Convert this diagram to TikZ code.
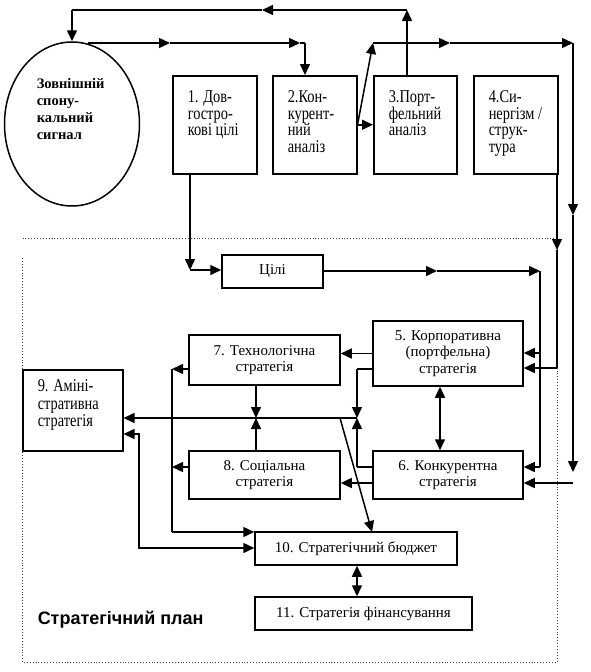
\documentclass[tikz,border=0pt]{standalone}
\usepackage{fontspec}
\setmainfont{Liberation Serif}
\newfontfamily\narrowfont{Liberation Serif}[FakeStretch=0.8]
\newfontfamily\sansfont{Liberation Sans}
\usetikzlibrary{arrows.meta,shapes.geometric}
\begin{document}
\begin{tikzpicture}[x=1pt,y=-1pt,line width=1.5pt,
  tip/.style={-{Triangle[length=11pt,width=10pt]}},
  dtip/.style={{Triangle[length=11pt,width=10pt]}-{Triangle[length=11pt,width=10pt]}},
  box/.style={draw,line width=1.5pt,inner sep=0pt,font=\fontsize{15}{16.5}\selectfont,align=center},
  txt/.style={inner sep=0pt,align=left,font=\narrowfont\fontsize{18}{16.5}\selectfont},
  frame/.style={dotted,line width=0.9pt,black!75}]
\useasboundingbox (0,0) rectangle (590,672);
% dotted frame
\draw[frame] (22,258) -- (22,662) -- (557,662) -- (557,238) -- (22,238);
% signal ellipse
\node[draw,ellipse,line width=1.5pt,minimum width=135,minimum height=164,inner sep=0pt] (sig) at (72,124) {};
\node[inner sep=0pt,align=left,font=\fontsize{14.5}{17}\selectfont\bfseries,anchor=north west] (sigt) at (36,78) {Зовнішній\\спону-\\кальний\\сигнал};
% top boxes
\node[box,minimum width=84,minimum height=98,anchor=north west] (b1) at (172,75) {};
\node[txt,anchor=north west] (t1) at (187,90) {1. Дов-\\гостро-\\кові цілі};
\node[box,minimum width=84,minimum height=98,anchor=north west] (b2) at (272,75) {};
\node[txt,anchor=north west] (t2) at (287,90) {2.Кон-\\курент-\\ний\\аналіз};
\node[box,minimum width=83,minimum height=98,anchor=north west] (b3) at (373,75) {};
\node[txt,anchor=north west] (t3) at (388,90) {3.Порт-\\фельний\\аналіз};
\node[box,minimum width=84,minimum height=98,anchor=north west] (b4) at (473,75) {};
\node[txt,anchor=north west] (t4) at (488,90) {4.Си-\\нергізм /\\струк-\\тура};
% plan boxes
\node[box,minimum width=101,minimum height=33] (goal) at (272.5,271.5) {Цілі};
\node[box,minimum width=150,minimum height=65] (b5) at (448,353.5) {5. Корпоративна\\(портфельна)\\стратегія};
\node[box,minimum width=150,minimum height=48] (b6) at (448,475) {6. Конкурентна\\стратегія};
\node[box,minimum width=151,minimum height=50] (b7) at (264.5,360) {7. Технологічна\\стратегія};
\node[box,minimum width=151,minimum height=48] (b8) at (264.5,475) {8. Соціальна\\стратегія};
\node[box,minimum width=100,minimum height=81,anchor=north west] (b9) at (22,369) {};
\node[txt,font=\narrowfont\fontsize{18}{17.5}\selectfont,anchor=north west] (t9) at (37,379) {9. Аміні-\\стративна\\стратегія};
\node[box,minimum width=202,minimum height=33] (b10) at (356,548.5) {10. Стратегічний бюджет};
\node[box,minimum width=217,minimum height=33] (b11) at (363.5,613.5) {11. Стратегія фінансування};
\node[inner sep=0pt,anchor=west,font=\sansfont\bfseries\fontsize{18}{20}\selectfont] (plan) at (37,620) {Стратегічний план};
% coordinates
\coordinate (tA) at (407,10); \coordinate (tM) at (262,10); \coordinate (tB) at (72,10);
\coordinate (s1) at (88,43); \coordinate (m1) at (170,43); \coordinate (m2) at (300,43); \coordinate (c2) at (305,43);
\coordinate (d1) at (373,43); \coordinate (m3) at (450,43); \coordinate (c4) at (573,43);
\coordinate (v1) at (573,215); \coordinate (v2) at (573,472); \coordinate (v3) at (573,483);
\coordinate (g1) at (557,250); \coordinate (g2) at (557,368);
\coordinate (k1) at (190,270);
\coordinate (h1) at (437,271); \coordinate (h2) at (540,271); \coordinate (h3) at (540,467); \coordinate (h4) at (540,353);
\coordinate (x1) at (357,369); \coordinate (x2) at (357,418); \coordinate (x3) at (357,467);
\coordinate (x4) at (256,418); \coordinate (x5) at (340,418);
\coordinate (l1) at (172,369); \coordinate (l2) at (172,467); \coordinate (l3) at (172,532);
\coordinate (r1) at (139,548); \coordinate (r2) at (139,434);
% top loop
\draw[tip] (tA |- b3.north) -- (tA);
\draw[tip] (tA) -- (tM);
\draw (tM) -- (tB);
\draw[tip] (tB) -- (sig.north);
% ellipse to box 2
\draw[tip] (s1) -- (m1);
\draw[tip] (m1) -- (m2);
\draw (m2) -- (c2);
\draw[tip] (c2) -- (c2 |- b2.north);
% box 2 -> box 3
\draw[tip] (b2.east) -- (b3.west);
% box 2 -> upper right line
\draw[tip] (b2.east) -- (d1);
\draw[tip] (d1) -- (m3);
\draw[tip] (m3) -- (c4);
\draw[tip] (c4) -- (v1);
\draw[tip] (v1) -- (v2);
\draw[tip] (v3) -- (b6.east |- v3);
% box 4 -> box 5
\draw[tip] (g1 |- b4.south) -- (g1);
\draw (g1) -- (g2);
\draw[tip] (g2) -- (b5.east |- g2);
% box 1 -> goals
\draw[tip] (k1 |- b1.south) -- (k1);
\draw[tip] (k1) -- (goal.west |- k1);
% goals -> 5, 6
\draw[tip] (goal.east |- h1) -- (h1);
\draw[tip] (h1) -- (h2);
\draw (h2) -- (h3);
\draw[tip] (h3) -- (b6.east |- h3);
\draw[tip] (h4) -- (b5.east |- h4);
% 5 <-> 6
\draw[dtip] (b5.south -| 440,0) -- (b6.north -| 440,0);
% 5 -> 7, 6 -> 8
\draw[tip] (b5.west) -- (b7.east |- b5.west);
\draw[tip] (b6.west |- 0,483) -- (b8.east |- 0,483);
% 5, 6 -> junction
\draw (b5.west |- x1) -- (x1);
\draw[tip] (x1) -- (x2);
\draw (b6.west |- x3) -- (x3);
\draw[tip] (x3) -- (x2);
% 7, 8 -> junction
\draw[tip] (x4 |- b7.south) -- (x4);
\draw[tip] (x4 |- b8.north) -- (x4);
% horizontal to 9
\draw[tip] (x2) -- (b9.east |- x2);
% diagonal to 10
\draw[tip] (x5) -- (372,532);
% 7, 8 -> left bus -> 10
\draw[tip] (b7.west |- l1) -- (l1);
\draw[tip] (b8.west |- l2) -- (l2);
\draw (l1) -- (l3);
\draw[tip] (l3) -- (b10.west |- l3);
% 10 <-> 9
\draw[dtip] (b10.west |- r1) -- (r1) -- (r2) -- (b9.east |- r2);
% 10 <-> 11
\draw[dtip] (b10.south -| 357,0) -- (b11.north -| 357,0);
\end{tikzpicture}
\end{document}
